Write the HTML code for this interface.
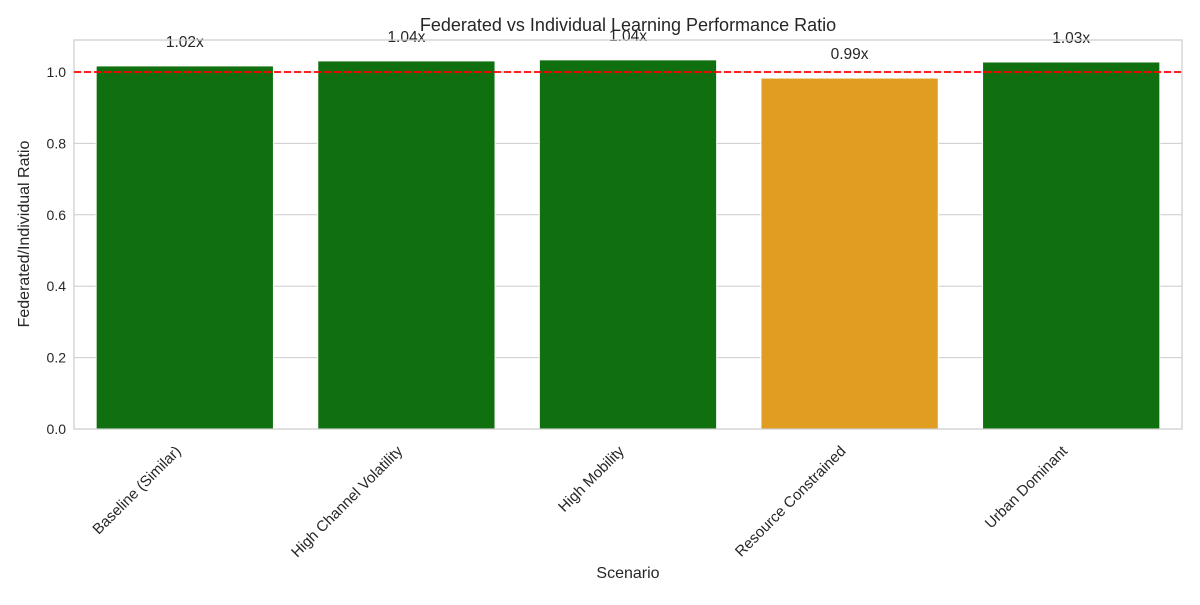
<!DOCTYPE html>
<html><head><meta charset="utf-8"><style>
body{margin:0;background:#fff;}
svg text{font-family:"Liberation Sans","DejaVu Sans",sans-serif;fill:#262626;}
</style></head><body>
<svg id="chart" width="1200" height="600" xmlns="http://www.w3.org/2000/svg">
<text x="628" y="31" font-size="18" text-anchor="middle">Federated vs Individual Learning Performance Ratio</text>
<g id="grid"></g>
<g id="bars"></g>
<g id="labels"></g>
<g id="xt"></g>
<g id="yt"></g>
<rect x="74" y="40" width="1108" height="389" fill="none" stroke="#cccccc" stroke-width="1.2"/>
<text x="628" y="578" font-size="16" text-anchor="middle">Scenario</text>
<text transform="translate(29,234) rotate(-90)" font-size="16" text-anchor="middle">Federated/Individual Ratio</text>
</svg>
<script>
const categories=["Baseline (Similar)","High Channel Volatility","High Mobility","Resource Constrained","Urban Dominant"];
const values=[1.017,1.031,1.034,0.983,1.028];
const valueLabels=["1.02x","1.04x","1.04x","0.99x","1.03x"];
const yTicks=[0,0.2,0.4,0.6,0.8,1.0];
const yTickLabels=["0.0","0.2","0.4","0.6","0.8","1.0"];
const NS="http://www.w3.org/2000/svg";
const L=74,R=1182,T=40,B=429,YMAX=1.0896;
const y=v=>B-(v/YMAX)*(B-T);
const step=(R-L)/categories.length;
const xc=i=>L+step*(i+0.5);
function mk(t,a,p){const e=document.createElementNS(NS,t);for(const k in a)e.setAttribute(k,a[k]);p.appendChild(e);return e;}
const g=document.getElementById('grid'),yt=document.getElementById('yt');
yTicks.forEach((v,i)=>{
 const ln=mk('line',{x1:L,x2:R,y1:y(v),y2:y(v),stroke:'#cccccc','stroke-width':1},g);
 
 
 const t=mk('text',{x:L-8,y:y(v)+5,'font-size':14,'text-anchor':'end'},yt);
 t.textContent=yTickLabels[i];
 
 
});
const bg=document.getElementById('bars'),lg=document.getElementById('labels'),xg=document.getElementById('xt');
const bw=step*0.8;
values.forEach((v,i)=>{
 const r=mk('rect',{x:xc(i)-bw/2,y:y(v),width:bw,height:B-y(v),fill:v>=1?'#107010':'#e09d21',stroke:'#fff','stroke-width':1},bg);
 
 
 const t=mk('text',{x:xc(i),y:y(v+0.05)-1,'font-size':15.5,'text-anchor':'middle'},lg);
 t.textContent=valueLabels[i];
 
 
 const xl=mk('text',{transform:`translate(${xc(i)-3},${B+23}) rotate(-45)`,'font-size':15,'text-anchor':'end'},xg);
 xl.textContent=categories[i];
 
 
});
const ref=mk('line',{x1:L,x2:R,y1:y(1),y2:y(1),stroke:'#ff0000','stroke-width':1.8,'stroke-dasharray':'7,3'},document.getElementById('chart'));


</script>
</body></html>
